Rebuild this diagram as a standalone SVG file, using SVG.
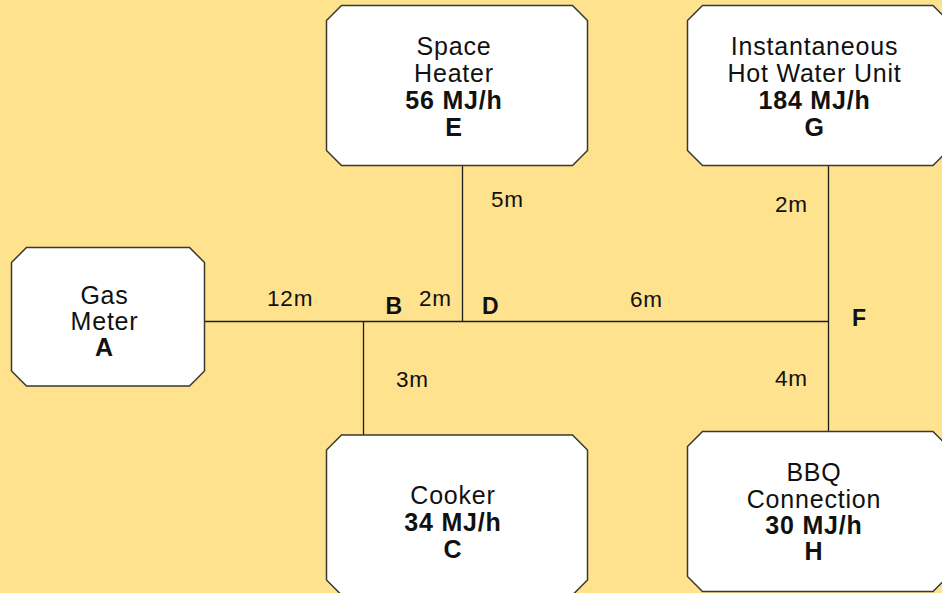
<svg xmlns="http://www.w3.org/2000/svg" width="942" height="593" viewBox="0 0 942 593">
<style>
.bg{fill:#FEE28E}
.node{fill:#FFFFFF;stroke:#3a3830;stroke-width:1.5}
.conn{stroke:#1e1e1a;stroke-width:1.3;fill:none}
.t{font-family:"Liberation Sans",Arial,sans-serif;font-size:25px;letter-spacing:0.8px;fill:#111;text-anchor:middle}
.b{font-weight:bold}
.lbl{font-family:"Liberation Sans",Arial,sans-serif;font-size:22.5px;letter-spacing:0.8px;fill:#111}
.pt{font-family:"Liberation Sans",Arial,sans-serif;font-size:23px;font-weight:bold;fill:#111}
</style>
<rect class="bg" x="0" y="0" width="942" height="593"/>
<g id="connectors">
<line class="conn" x1="204.5" y1="321.5" x2="829" y2="321.5"/>
<line class="conn" x1="363.5" y1="321.5" x2="363.5" y2="435"/>
<line class="conn" x1="462.5" y1="165.5" x2="462.5" y2="321.5"/>
<line class="conn" x1="828.5" y1="165.5" x2="828.5" y2="431.5"/>
</g>
<g id="labels">
<text class="lbl" x="267" y="306">12m</text>
<text class="lbl" x="419" y="306">2m</text>
<text class="lbl" x="491" y="207">5m</text>
<text class="lbl" x="775" y="212">2m</text>
<text class="lbl" x="630" y="306.5">6m</text>
<text class="lbl" x="396" y="386.5">3m</text>
<text class="lbl" x="775" y="386">4m</text>
<text class="pt" x="385.5" y="313.5">B</text>
<text class="pt" x="482" y="313.5">D</text>
<text class="pt" x="852" y="326">F</text>
</g>
<g id="node-A">
<path class="node" d="M26.5,247.5 L189.5,247.5 L204.5,262.5 L204.5,371 L189.5,386 L26.5,386 L11.5,371 L11.5,262.5 Z"/>
<text class="t" x="104.5" y="303.5">Gas</text>
<text class="t" x="104.5" y="330">Meter</text>
<text class="t b" x="104.5" y="356">A</text>
</g>
<g id="node-E">
<path class="node" d="M341.5,5.5 L572.5,5.5 L587.5,20.5 L587.5,150.5 L572.5,165.5 L341.5,165.5 L326.5,150.5 L326.5,20.5 Z"/>
<text class="t" x="454" y="55">Space</text>
<text class="t" x="454" y="82">Heater</text>
<text class="t b" x="454" y="109">56 MJ/h</text>
<text class="t b" x="454" y="135.5">E</text>
</g>
<g id="node-G">
<path class="node" d="M702.5,5.5 L933,5.5 L948,20.5 L948,150.5 L933,165.5 L702.5,165.5 L687.5,150.5 L687.5,20.5 Z"/>
<text class="t" x="814.5" y="55">Instantaneous</text>
<text class="t" x="814.5" y="82">Hot Water Unit</text>
<text class="t b" x="814.5" y="109">184 MJ/h</text>
<text class="t b" x="814.5" y="135.5">G</text>
</g>
<g id="node-C">
<path class="node" d="M341.5,435 L572.5,435 L587.5,450 L587.5,580 L572.5,595 L341.5,595 L326.5,580 L326.5,450 Z"/>
<text class="t" x="453" y="503.5">Cooker</text>
<text class="t b" x="453" y="531">34 MJ/h</text>
<text class="t b" x="453" y="557.5">C</text>
</g>
<g id="node-H">
<path class="node" d="M702.5,431.5 L933,431.5 L948,446.5 L948,576.5 L933,591.5 L702.5,591.5 L687.5,576.5 L687.5,446.5 Z"/>
<text class="t" x="814" y="481">BBQ</text>
<text class="t" x="814" y="507.5">Connection</text>
<text class="t b" x="814" y="533.5">30 MJ/h</text>
<text class="t b" x="814" y="559.5">H</text>
</g>
</svg>
